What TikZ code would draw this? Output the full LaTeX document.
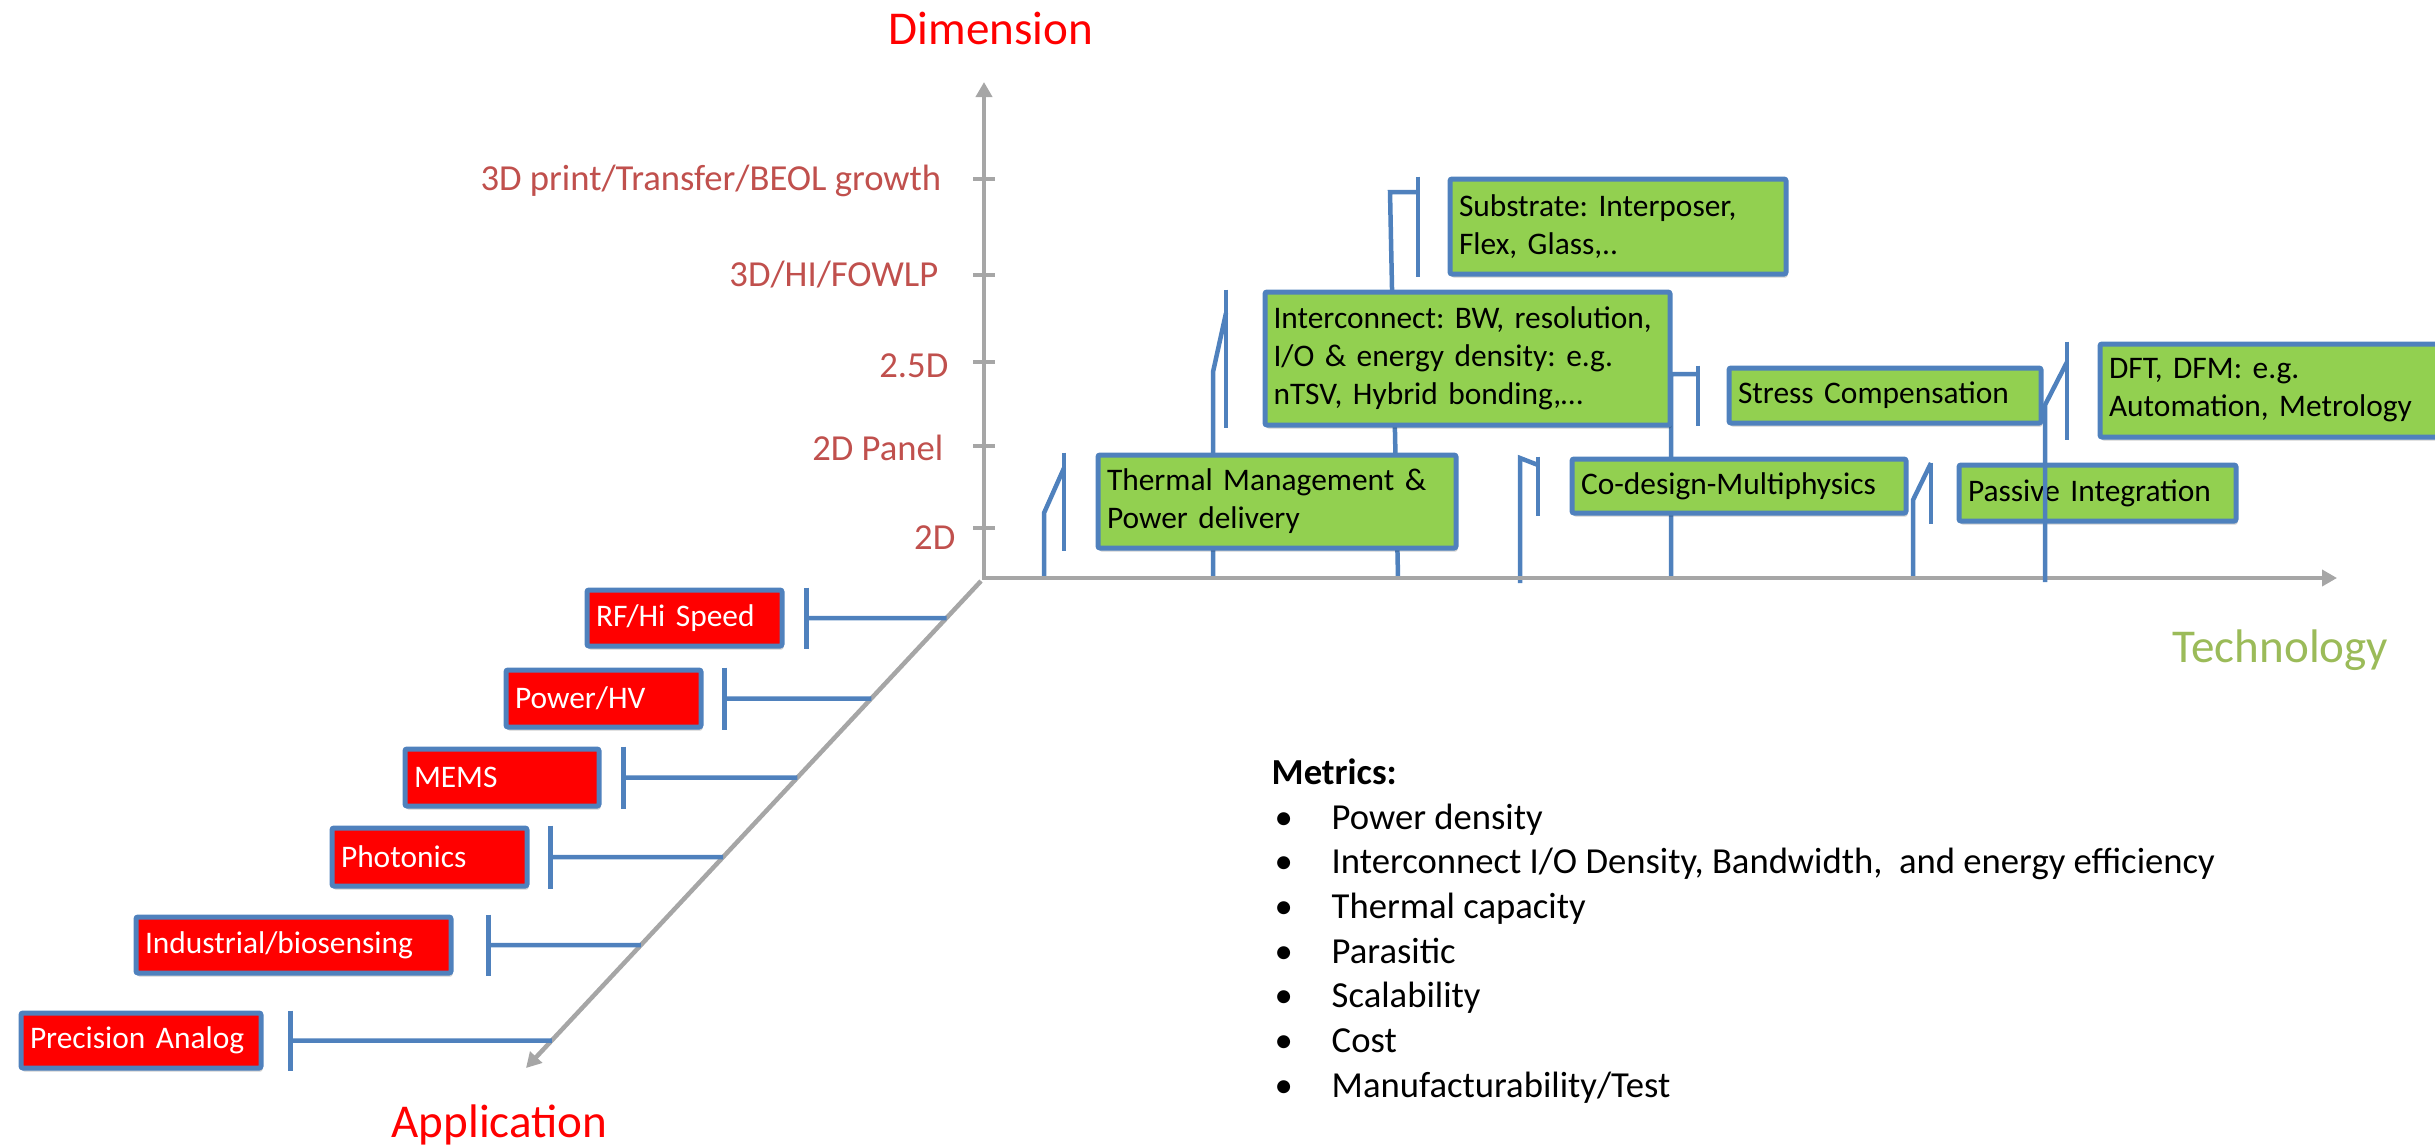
\documentclass[tikz,border=0pt]{standalone}
\usepackage{fontspec}
\setmainfont{Carlito}
\usetikzlibrary{arrows.meta,calc,shadows,backgrounds}
\definecolor{PPTBlue}{RGB}{79,129,189}
\definecolor{PPTGreen}{RGB}{146,208,80}
\definecolor{PPTRed}{RGB}{255,0,0}
\definecolor{AxisGrey}{RGB}{166,166,166}
\definecolor{LevelRed}{RGB}{192,80,77}
\definecolor{TechGreen}{RGB}{155,187,89}
\frenchspacing

\tikzset{
  techbox/.style={draw=PPTBlue, line width=0.5mm, rounded corners=0.2mm, fill=PPTGreen, anchor=north west,
    inner xsep=0.9mm, inner ysep=0pt, align=left, font=\fontsize{8.94}{10.8}\selectfont,
    drop shadow={shadow xshift=0.15mm, shadow yshift=-0.35mm, fill=black, opacity=0.18}},
  appbox/.style={techbox, fill=PPTRed, text=white},
  link/.style={draw=PPTBlue, line width=0.45mm},
  axisline/.style={draw=AxisGrey, line width=0.45mm},
  levellabel/.style={anchor=base east, inner sep=0pt, text=LevelRed, font=\fontsize{10.43}{12.7}\selectfont},
  axistitle/.style={anchor=base west, inner sep=0pt, font=\fontsize{13.4}{16}\selectfont},
  metric/.style={anchor=base west, inner sep=0pt, font=\fontsize{10.43}{12.7}\selectfont}
}

\begin{document}
\begin{tikzpicture}[x=0.1mm, y=-0.1mm]
\pgfmathsetmacro{\ox}{984} % origin x of the three axes (1 unit = 1 px of the slide)
\pgfmathsetmacro{\oy}{578} % origin y
\useasboundingbox (0,0) rectangle (2435,1145); % slide size 2435 x 1145
\clip (0,0) rectangle (2435,1145);

% axes
\coordinate (O) at (\ox,\oy);
\coordinate (dimTip) at (\ox,82);
\coordinate (techTip) at (2337,\oy);
\coordinate (appStart) at (\ox-3,\oy+3);
\coordinate (appTip) at (526,1068);
\draw[axisline, {Triangle[length=1.5mm, width=1.6mm]}-{Triangle[length=1.5mm, width=1.6mm]}] (dimTip) -- (O) -- (techTip);
\draw[axisline, -{Triangle[length=1.5mm, width=1.6mm]}] (appStart) -- (appTip);

\node[axistitle, text=PPTRed] (dimTitle) at (888,44) {Dimension};
\node[axistitle, text=TechGreen] (techTitle) at (2172,662) {Technology};
\node[axistitle, text=PPTRed] (appTitle) at (391,1137) {Application};

% dimension levels
\foreach \ty/\by/\lx/\lab [count=\i] in {179/190/942/{3D print/Transfer/BEOL growth}, 275/286/939/{3D/HI/FOWLP}, 362/377/949/2.5D, 446/460/944/2D Panel, 528/549/956/2D}
{
 \draw[axisline] (\ox-11,\ty) -- (\ox+11,\ty);
 \node[levellabel] (level\i) at (\lx,\by) {\lab};
}

% technology boxes
\node[techbox, text width=34mm, minimum height=9.3mm] (thermal) at (1095.5,452.5) {Thermal Management \&\\Power delivery};
\node[techbox, text width=38.8mm, inner xsep=0.85mm, minimum height=13.3mm] (interconnect) at (1262.5,289.5) {Interconnect: BW, resolution,\\I/O \& energy density: e.g.\\nTSV, Hybrid bonding,…};
\node[techbox, text width=31.8mm, minimum height=9.5mm] (substrate) at (1447.5,176.5) {Substrate: Interposer,\\Flex, Glass,..};
\node[techbox, text width=29.4mm, minimum height=5.5mm] (stress) at (1726.5,365.5) {Stress Compensation};
\node[techbox, text width=37.6mm, minimum height=9.3mm] (dft) at (2097.5,341.5) {DFT, DFM: e.g.\\Automation, Metrology};
\node[techbox, text width=31.6mm, minimum height=5.4mm] (codesign) at (1569.5,456.5) {Co-design-Multiphysics};
\node[techbox, text width=25.9mm, minimum height=5.6mm] (passive) at (1956.5,462.5) {Passive Integration};

% feet of the level brackets on the technology axis
\coordinate (fThermal) at (1044,\oy);
\coordinate (fInter) at (1213,\oy);
\coordinate (fSub) at (1398,\oy);
\coordinate (fCo) at (1520,\oy+5);
\coordinate (fStress) at (1671,\oy);
\coordinate (fPass) at (1913,\oy);
\coordinate (fDft) at (2045,\oy+4);

\begin{scope}[on background layer]
\draw[link] (fThermal) -- ++(0,-65) -- ($(thermal.north west)+(-31.5,15.5)$); % jog
\draw[link] ($(thermal.north west)+(-31.5,0)$) -- ($(thermal.south west)+(-31.5,0)$); % bar
\draw[link] (fInter) -- ++(0,-206) -- ($(interconnect.north west)+(-36.5,23.5)$);
\draw[link] ($(interconnect.north west)+(-36.5,0)$) -- ($(interconnect.south west)+(-36.5,0)$);
\draw[link] (fSub) -- (1390,192) -- ($(substrate.north west)+(-29.5,15.5)$);
\draw[link] ($(substrate.north west)+(-29.5,0)$) -- ($(substrate.south west)+(-29.5,0)$);
\draw[link] (fCo) -- (1520,458) -- ($(codesign.north west)+(-31.5,8.5)$);
\draw[link] ($(codesign.north west)+(-31.5,0)$) -- ($(codesign.south west)+(-31.5,0)$);
\draw[link] (fStress) -- (1671,374) -- ($(stress.north west)+(-28.5,8.5)$);
\draw[link] ($(stress.north west)+(-28.5,0)$) -- ($(stress.south west)+(-28.5,0)$);
\draw[link] (fPass) -- ++(0,-78) -- ($(passive.north west)+(-25.5,0.5)$);
\draw[link] ($(passive.north west)+(-25.5,0)$) -- ($(passive.south west)+(-25.5,0)$);
\end{scope}
\draw[link] (fDft) -- (2045,405) -- ($(dft.north west)+(-30.5,20.5)$); % runs over Passive Integration
\draw[link] ($(dft.north west)+(-30.5,0)$) -- ($(dft.south west)+(-30.5,0)$);

% application boxes
\node[appbox, text width=17.7mm, minimum height=5.6mm] (rf) at (584.5,587.5) {RF/Hi Speed};
\node[appbox, text width=17.7mm, minimum height=5.7mm] (hv) at (503.5,667.5) {Power/HV};
\node[appbox, text width=17.6mm, minimum height=5.7mm] (mems) at (402.5,746.5) {MEMS};
\node[appbox, text width=17.7mm, minimum height=5.8mm] (phot) at (329.5,825.5) {Photonics};
\node[appbox, text width=29.7mm, minimum height=5.6mm] (ind) at (133.5,914.5) {Industrial/biosensing};
\node[appbox, text width=22.2mm, minimum height=5.5mm] (prec) at (18.5,1010.5) {Precision Analog};

\foreach \b/\g in {rf/22, hv/21, mems/22, phot/21, ind/35, prec/27}
{
 \draw[link] (intersection of appStart--appTip and \b.west--\b.east) -- ($(\b.east)+(\g,0)$);
 \draw[link] ($(\b.north east)+(\g,0)$) -- ($(\b.south east)+(\g,0)$); % bar
}

% metrics
\node[metric, font=\bfseries\fontsize{10.43}{12.7}\selectfont] (metrics) at (1271,784) {Metrics:};
\foreach \m [count=\i] in {Power density, {Interconnect I/O Density, Bandwidth,~ and energy efficiency}, Thermal capacity, Parasitic, Scalability, Cost, Manufacturability/Test}
{
 \node[metric] (bullet\i) at (1274,{829+44.7*(\i-1)}) {•};
 \node[metric] (metric\i) at (1331,{829+44.7*(\i-1)}) {\m};
}

\end{tikzpicture}
\end{document}
